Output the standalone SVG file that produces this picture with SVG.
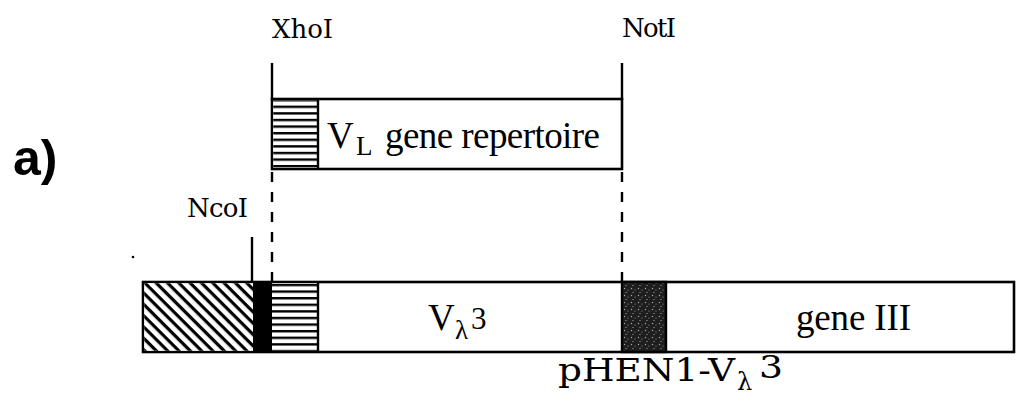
<svg xmlns="http://www.w3.org/2000/svg" width="1016" height="407" viewBox="0 0 1016 407">
<defs>
<pattern id="diag" patternUnits="userSpaceOnUse" width="8" height="8" patternTransform="rotate(45)">
<rect width="8" height="8" fill="#fff"/>
<rect x="0" y="0" width="8" height="3.2" fill="#000"/>
</pattern>
<pattern id="horiz" patternUnits="userSpaceOnUse" width="6" height="6.6">
<rect width="6" height="6.6" fill="#fff"/>
<rect x="0" y="0" width="6" height="2.4" fill="#000"/>
</pattern>
<pattern id="stipple" patternUnits="userSpaceOnUse" width="7" height="7">
<rect width="7" height="7" fill="#1e1e1e"/>
<circle cx="1.5" cy="1.5" r="0.7" fill="#aaa"/>
<circle cx="5" cy="3" r="0.6" fill="#999"/>
<circle cx="3" cy="5.5" r="0.6" fill="#bbb"/>
</pattern>
<style>
.ln{stroke:#000;stroke-width:2.4;fill:none}
.dash{stroke:#000;stroke-width:2.4;stroke-dasharray:10 10;fill:none}
.box{stroke:#000;stroke-width:2.6}
.t{font-family:"Liberation Serif",serif;fill:#000}
.s{font-family:"DejaVu Serif","Liberation Serif",serif;fill:#000}
</style>
</defs>
<rect width="1016" height="407" fill="#fff"/>

<text x="13" y="175" style="font-family:'Liberation Sans',sans-serif;font-weight:bold;font-size:50px" fill="#000">a)</text>

<g id="connectors">
<line class="ln" x1="272" y1="63" x2="272" y2="100"/>
<line class="ln" x1="622" y1="63" x2="622" y2="100"/>
<line class="ln" x1="252" y1="237" x2="252" y2="282"/>
<line class="dash" x1="272" y1="172" x2="272" y2="282"/>
<line class="dash" x1="622" y1="172" x2="622" y2="282"/>
</g>

<g id="labels">
<text class="s" x="272" y="38" font-size="26" textLength="61">XhoI</text>
<text class="s" x="622" y="37" font-size="26" textLength="54">NotI</text>
<text class="s" x="187" y="217" font-size="26" textLength="61">NcoI</text>
</g>

<g id="insert">
<rect class="box" x="272" y="99" width="350" height="70" fill="#fff"/>
<rect x="273.3" y="100.3" width="44.7" height="67.4" fill="url(#horiz)"/>
<line class="ln" x1="318" y1="99" x2="318" y2="169"/>
<text class="t" x="327" y="148" font-size="37">V</text>
<text class="t" x="356" y="155" font-size="27">L</text>
<text class="t" x="385" y="148" font-size="37" textLength="215">gene repertoire</text>
</g>

<g id="vector">
<rect class="box" x="143" y="282" width="871" height="70" fill="#fff"/>
<rect x="144.3" y="283.3" width="108.7" height="67.4" fill="url(#diag)"/>
<rect x="253" y="282" width="19" height="70" fill="#000"/>
<rect x="272" y="283.3" width="46" height="67.4" fill="url(#horiz)"/>
<line class="ln" x1="318" y1="282" x2="318" y2="352"/>
<rect x="622" y="282" width="44" height="70" fill="url(#stipple)" stroke="#000" stroke-width="2.4"/>
<text class="t" x="428" y="330" font-size="37">V</text>
<text class="t" x="455" y="339" font-size="27">λ</text>
<text class="t" x="471" y="329" font-size="31">3</text>
<text class="t" x="796" y="330" font-size="37" textLength="115">gene III</text>
</g>

<g id="caption">
<text class="s" x="558" y="381" font-size="31" textLength="177" lengthAdjust="spacingAndGlyphs">pHEN1-V</text>
<text class="s" x="737" y="390" font-size="24">λ</text>
<text class="s" x="759" y="378" font-size="32" textLength="24" lengthAdjust="spacingAndGlyphs">3</text>
</g>

<circle cx="133" cy="257" r="1.3" fill="#000"/>
</svg>
